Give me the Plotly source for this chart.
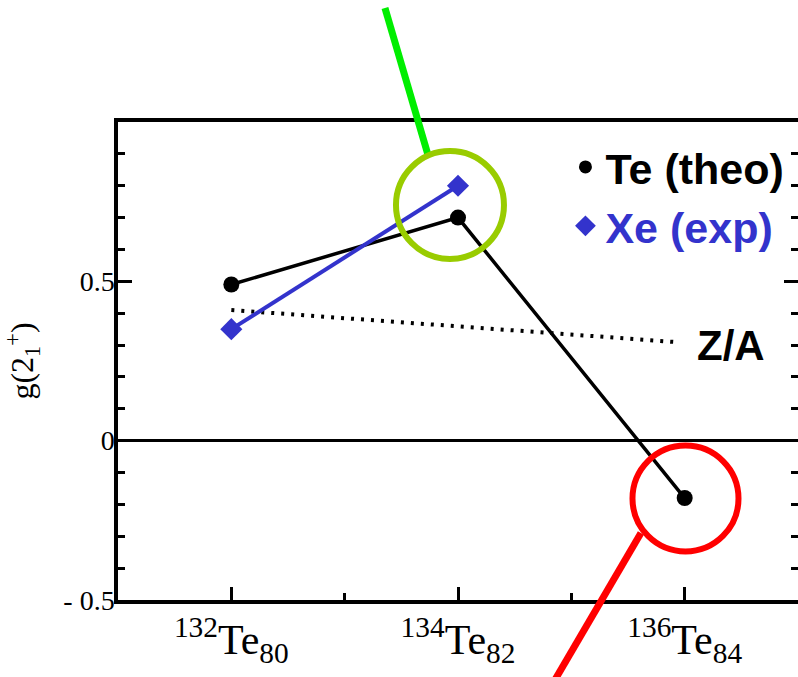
import plotly.graph_objects as go

# ---- data ----
mass = [132, 134, 136]
te_theo = [0.49, 0.70, -0.18]
xe_mass = [132, 134]
xe_exp = [0.35, 0.80]
za_mass = [132, 135.9]
za_vals = [0.41, 0.31]
tick_vals = [132, 134, 136]
tick_text = ["<sup>132</sup>Te<sub>80</sub>", "<sup>134</sup>Te<sub>82</sub>", "<sup>136</sup>Te<sub>84</sub>"]
y_tick_vals = [-0.5, 0, 0.5]
y_tick_text = ["- 0.5", "0", "0.5"]

BLUE = "#3333cc"
SERIF = "Liberation Serif, Times New Roman, serif"
SANS = "Liberation Sans, Arial, sans-serif"

fig = go.Figure()

fig.add_trace(go.Scatter(x=za_mass, y=za_vals, mode="lines",
                         line=dict(color="black", width=4, dash="3px,7px"),
                         showlegend=False, hoverinfo="skip"))
fig.add_trace(go.Scatter(x=mass, y=te_theo, mode="lines+markers",
                         line=dict(color="black", width=3.5),
                         marker=dict(symbol="circle", size=16, color="black"),
                         showlegend=False))
fig.add_trace(go.Scatter(x=xe_mass, y=xe_exp, mode="lines+markers",
                         line=dict(color=BLUE, width=4),
                         marker=dict(symbol="diamond", size=17, color=BLUE),
                         showlegend=False))
# legend-only entries
fig.add_trace(go.Scatter(x=[None], y=[None], mode="markers",
                         marker=dict(symbol="circle", size=13, color="black"),
                         name="<b>Te (theo)</b>"))
fig.add_trace(go.Scatter(x=[None], y=[None], mode="markers",
                         marker=dict(symbol="diamond", size=16, color=BLUE),
                         name="<b><span style='color:#3333cc'>Xe (exp)</span></b>"))
# invisible trace for right axis ticks
fig.add_trace(go.Scatter(x=[None], y=[None], yaxis="y2", showlegend=False, hoverinfo="skip"))

fig.update_layout(
    width=798, height=677,
    margin=dict(l=118, r=0, t=122, b=77),
    paper_bgcolor="white", plot_bgcolor="white",
    xaxis=dict(range=[131, 137], tickvals=tick_vals, ticktext=tick_text,
               showgrid=False, zeroline=False,
               showline=True, linecolor="black", linewidth=3.5, mirror=True,
               ticks="inside", ticklen=13, tickwidth=3, tickcolor="black",
               minor=dict(tickvals=[133, 135], ticks="inside", ticklen=7, tickwidth=3, tickcolor="black"),
               tickfont=dict(family=SERIF, size=42, color="black")),
    yaxis=dict(range=[-0.5, 1.0], tickvals=y_tick_vals, ticktext=y_tick_text,
               showgrid=False, zeroline=True, zerolinecolor="black", zerolinewidth=3,
               showline=True, linecolor="black", linewidth=3.5, mirror=False,
               ticks="inside", ticklen=14, tickwidth=3, tickcolor="black",
               minor=dict(dtick=0.1, ticks="inside", ticklen=7, tickwidth=3, tickcolor="black"),
               tickfont=dict(family=SERIF, size=28, color="black"),
               ticklabelstandoff=-6,
               title=dict(text="g(2<sub>1</sub><sup>+</sup>)", font=dict(family=SERIF, size=32, color="black"),
                          standoff=28)),
    yaxis2=dict(range=[-0.5, 1.0], overlaying="y", side="right", showgrid=False, zeroline=False,
                showline=False, tickvals=y_tick_vals, showticklabels=False,
                ticks="inside", ticklen=14, tickwidth=3, tickcolor="black",
                minor=dict(dtick=0.1, ticks="inside", ticklen=7, tickwidth=3, tickcolor="black")),
    legend=dict(x=0.658, y=0.978, xanchor="left", yanchor="top", bgcolor="rgba(0,0,0,0)",
                font=dict(family=SANS, size=43, color="black"), itemwidth=30, tracegroupgap=0),
    showlegend=True,
)

fig.add_annotation(x=135.9, y=0.31, xref="x", yref="y", text="<b>Z/A</b>", showarrow=False,
                   xanchor="left", xshift=22, yshift=-4,
                   font=dict(family=SANS, size=42, color="black"))

# highlight overlays (paper coordinates)
fig.add_shape(type="line", xref="paper", yref="paper", x0=0.3926, y0=1.2385, x1=0.4559, y1=0.931,
              line=dict(color="#00ee00", width=7), layer="above")
fig.add_shape(type="circle", xref="paper", yref="paper", x0=0.4088, x1=0.5676, y0=0.7134, y1=0.9393,
              line=dict(color="#99cc00", width=6), layer="above")
fig.add_shape(type="line", xref="paper", yref="paper", x0=0.769, y0=0.140, x1=0.6426, y1=-0.167,
              line=dict(color="#ff0000", width=7), layer="above")
fig.add_shape(type="circle", xref="paper", yref="paper", x0=0.7566, x1=0.9125, y0=0.1015, y1=0.3232,
              line=dict(color="#ff0000", width=6), layer="above")

fig.write_html("out.html")
